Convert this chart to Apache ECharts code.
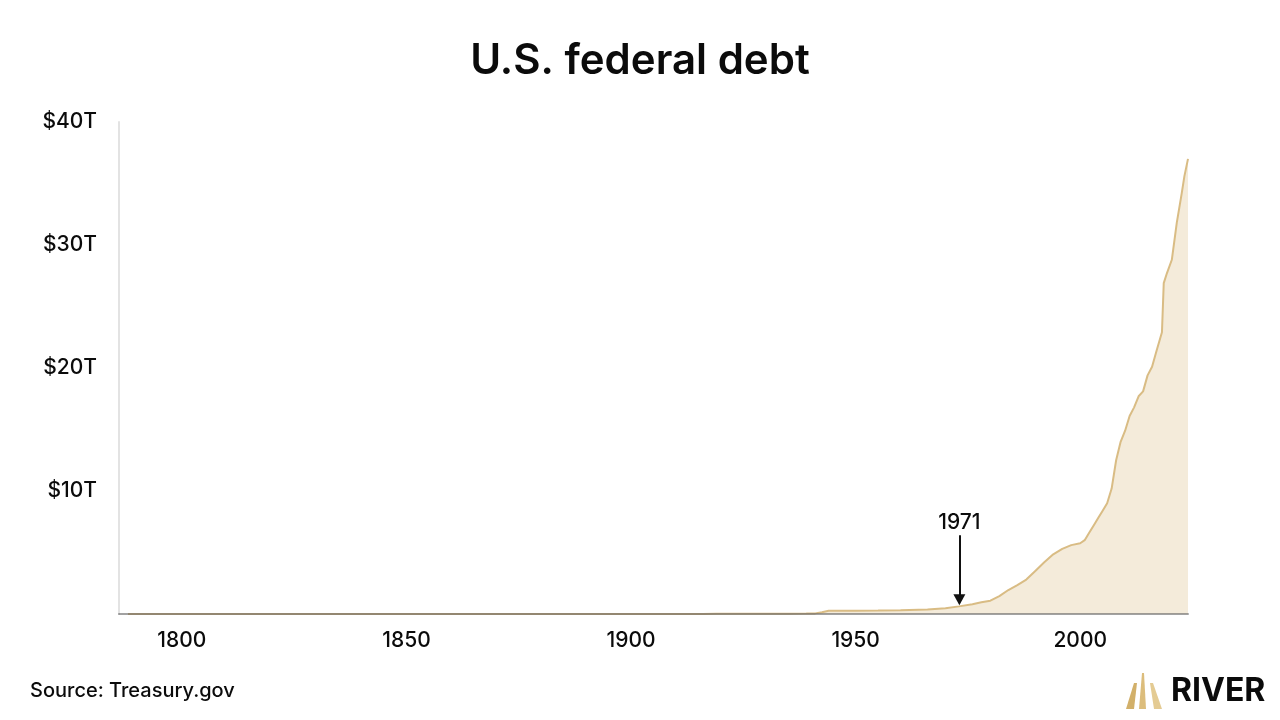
<!DOCTYPE html>
<html>
<head>
<meta charset="utf-8">
<script src="https://cdn.jsdelivr.net/npm/echarts@6/dist/echarts.min.js"></script>
<style>
html,body{margin:0;padding:0;background:#fff;}
#chart{width:1280px;height:720px;}
</style>
</head>
<body>
<div id="chart"></div>
<script>
// Years and federal debt in trillions of dollars
const years = [1788, 1800, 1810, 1816, 1820, 1830, 1835, 1840, 1850, 1860, 1863, 1866, 1870, 1880, 1890, 1900, 1910, 1916, 1919, 1925, 1930, 1935, 1939,
  1941, 1942.5, 1944, 1950, 1955, 1960, 1966, 1970, 1973, 1976, 1978, 1980, 1982, 1984, 1986, 1988, 1990, 1992, 1994, 1996, 1998,
  2000, 2001, 2002, 2003, 2004, 2005, 2006, 2007, 2008, 2009, 2010, 2011, 2012, 2013, 2014, 2015, 2016, 2017,
  2018.2, 2018.6, 2019.3, 2020.4, 2021.5, 2022.6, 2023.2, 2024];
const debtTrillions = [0.000075, 0.000083, 0.000053, 0.000127, 0.000091, 0.000049, 0.00000004, 0.0000038, 0.000063, 0.000065, 0.0011, 0.0027, 0.0024, 0.0021, 0.0011, 0.0013, 0.0012, 0.0012, 0.0255, 0.0206, 0.0162, 0.0287, 0.040,
  0.05, 0.14, 0.26, 0.27, 0.28, 0.30, 0.37, 0.46, 0.62, 0.80, 0.95, 1.08, 1.45, 1.95, 2.35, 2.8, 3.5, 4.2, 4.85, 5.3, 5.6,
  5.75, 6.0, 6.6, 7.2, 7.8, 8.4, 9.0, 10.2, 12.5, 14.0, 14.9, 16.1, 16.8, 17.7, 18.1, 19.4, 20.1, 21.4,
  22.9, 26.9, 27.7, 28.8, 31.8, 34.2, 35.6, 37.0];
const xTickLabels = [1800, 1850, 1900, 1950, 2000];
const annotationLabel = '1971';
const annotationX = 1973.1;
const annotationTop = 6.4;
const annotationTip = 1.15;

const FONT = 'Inter, "Noto Sans", sans-serif';
const chart = echarts.init(document.getElementById('chart'), null, {renderer: 'canvas'});

const seriesData = years.map((y, i) => [y, debtTrillions[i]]);

chart.setOption({
  animation: false,
  backgroundColor: '#ffffff',
  title: {
    text: 'U.S. federal debt',
    left: 'center',
    top: 35,
    textStyle: {fontFamily: FONT, fontSize: 42, fontWeight: 600, color: '#0b0b0b'}
  },
  grid: {left: 119, right: 92, top: 122, bottom: 106, containLabel: false},
  xAxis: {
    type: 'value',
    min: 1786,
    max: 2024,
    z: 5,
    splitLine: {show: false},
    axisTick: {show: false},
    axisLine: {show: true, lineStyle: {color: 'rgba(100,100,100,0.6)', width: 2}},
    axisLabel: {
      customValues: xTickLabels,
      margin: 16,
      color: '#0b0b0b',
      fontFamily: FONT,
      fontSize: 21,
      fontWeight: 500,
      formatter: v => String(v)
    }
  },
  yAxis: {
    type: 'value',
    min: 0,
    max: 40,
    interval: 10,
    splitLine: {show: false},
    axisTick: {show: false},
    axisLine: {show: true, lineStyle: {color: '#e3e3e3', width: 2}},
    axisLabel: {
      margin: 22,
      color: '#0b0b0b',
      fontFamily: FONT,
      fontSize: 21,
      fontWeight: 500,
      formatter: v => (v === 0 ? '' : '$' + v + 'T')
    }
  },
  series: [{
    type: 'line',
    data: seriesData,
    showSymbol: false,
    smooth: false,
    lineStyle: {color: '#d9bc84', width: 2},
    areaStyle: {color: '#f4ebda', opacity: 1},
    markLine: {
      silent: true,
      symbol: ['none', 'triangle'],
      symbolSize: [12, 11],
      lineStyle: {color: '#111', width: 2, type: 'solid'},
      label: {
        show: true,
        position: 'start',
        distance: 2,
        formatter: annotationLabel,
        color: '#0b0b0b',
        fontFamily: FONT,
        fontSize: 21,
        fontWeight: 500
      },
      data: [[
        {coord: [annotationX, annotationTop]},
        {coord: [annotationX, annotationTip]}
      ]]
    }
  }],
  graphic: [
    {
      type: 'text',
      left: 30,
      top: 681,
      style: {text: 'Source: Treasury.gov', fill: '#0b0b0b', font: '500 20px ' + FONT}
    },
    {
      type: 'group',
      left: 1126,
      top: 673,
      children: [
        {type: 'polygon', shape: {points: [[8, 10], [11, 10], [8, 36], [0, 36]]}, style: {fill: '#d2b06a'}},
        {type: 'polygon', shape: {points: [[16, 0], [18, 0], [20, 36], [13, 36]]}, style: {fill: '#dcbd7c'}},
        {type: 'polygon', shape: {points: [[24, 10], [27, 10], [36, 36], [28, 36]]}, style: {fill: '#e4cb93'}}
      ]
    },
    {
      type: 'text',
      left: 1171,
      top: 675,
      style: {text: 'RIVER', fill: '#0b0b0b', font: '700 32px ' + FONT}
    }
  ]
});
</script>
</body>
</html>
